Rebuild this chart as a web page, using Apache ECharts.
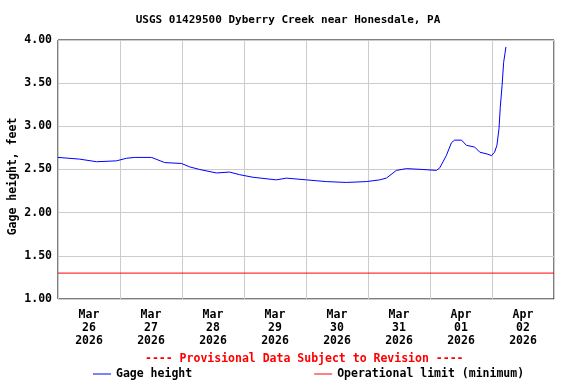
<!DOCTYPE html>
<html><head><meta charset="utf-8">
<script src="https://cdn.jsdelivr.net/npm/echarts@6/dist/echarts.min.js"></script>
<style>html,body{margin:0;padding:0;background:#fff}#c{width:576px;height:384px}</style>
</head><body><div id="c"></div>
<script>
const titleText = 'USGS 01429500 Dyberry Creek near Honesdale, PA';
const yTicks = [1.0, 1.5, 2.0, 2.5, 3.0, 3.5, 4.0];
const times = [
 '2026-03-26T00:00','2026-03-26T08:24','2026-03-26T14:54','2026-03-26T22:36',
 '2026-03-27T02:30','2026-03-27T05:42','2026-03-27T12:12','2026-03-27T17:18','2026-03-27T23:48',
 '2026-03-28T03:00','2026-03-28T06:54','2026-03-28T13:18','2026-03-28T18:24','2026-03-28T22:18',
 '2026-03-29T03:30','2026-03-29T12:30','2026-03-29T16:24',
 '2026-03-30T00:12','2026-03-30T04:00','2026-03-30T07:54','2026-03-30T15:36','2026-03-30T23:24',
 '2026-03-31T04:30','2026-03-31T07:06','2026-03-31T09:42','2026-03-31T11:00','2026-03-31T14:54','2026-03-31T21:18',
 '2026-04-01T02:30','2026-04-01T03:48','2026-04-01T06:18','2026-04-01T08:18','2026-04-01T09:30',
 '2026-04-01T12:12','2026-04-01T14:06','2026-04-01T17:18','2026-04-01T19:18','2026-04-01T22:06','2026-04-01T23:48',
 '2026-04-02T01:00','2026-04-02T01:54','2026-04-02T02:42','2026-04-02T03:12','2026-04-02T03:54',
 '2026-04-02T04:30','2026-04-02T05:00','2026-04-02T05:24'
];
const gageHeight = [
 2.64,2.62,2.59,2.60,
 2.63,2.64,2.64,2.58,2.57,
 2.53,2.50,2.46,2.47,2.44,
 2.41,2.38,2.40,
 2.38,2.37,2.36,2.35,2.36,
 2.38,2.40,2.46,2.49,2.51,2.50,
 2.49,2.52,2.66,2.81,2.84,
 2.84,2.78,2.76,2.70,2.68,2.66,
 2.70,2.78,2.97,3.22,3.47,
 3.74,3.84,3.92
];
const operationalLimit = 1.30;
const axisStart = '2026-03-26T00:00';
const axisEnd = '2026-04-03T00:00';
const months = ['Jan','Feb','Mar','Apr','May','Jun','Jul','Aug','Sep','Oct','Nov','Dec'];

const toMs = s => Date.parse(s + ':00Z');
const H = 3600 * 1000;
const xMin = toMs(axisStart), xMax = toMs(axisEnd);
const font = '"DejaVu Sans Mono", monospace';
const fs = 11.5;

const chart = echarts.init(document.getElementById('c'), null, {renderer: 'canvas'});
chart.setOption({
  animation: false,
  backgroundColor: '#fff',
  title: {text: titleText, left: 'center', top: 10,
    textStyle: {fontFamily: font, fontSize: 11, fontWeight: 'bold', color: '#000'}},
  grid: {left: 58, right: 22, top: 40, bottom: 85, show: true, borderColor: '#000', borderWidth: 1,
    backgroundColor: 'transparent', containLabel: false, outerBoundsMode: 'none'},
  legend: {left: 88, top: 363, itemGap: 122, itemWidth: 18, itemHeight: 1, icon: 'rect',
    textStyle: {fontFamily: font, fontSize: fs, fontWeight: 'bold', color: '#000'},
    data: ['Gage height', 'Operational limit (minimum)']},
  graphic: [{type: 'text', left: 145, top: 353, style: {
    text: '---- Provisional Data Subject to Revision ----', fill: '#ff0000',
    font: 'bold ' + fs + 'px ' + font}}],
  xAxis: [
    {type: 'value', min: xMin, max: xMax, interval: 12 * H,
     axisLine: {show: false}, axisTick: {show: false}, splitLine: {show: false},
     axisLabel: {margin: 10, lineHeight: 13, fontFamily: font, fontSize: fs, fontWeight: 'bold', color: '#000',
       showMinLabel: false, showMaxLabel: false,
       formatter: v => {
         const d = new Date(v);
         if (d.getUTCHours() !== 12) return '';
         return months[d.getUTCMonth()] + '\n' + String(d.getUTCDate()).padStart(2, '0') + '\n' + d.getUTCFullYear();
       }}},
    {type: 'value', min: xMin, max: xMax, interval: 24 * H, position: 'bottom',
     axisLine: {show: false}, axisTick: {show: false}, axisLabel: {show: false},
     splitLine: {show: true, lineStyle: {color: '#cccccc', width: 1}}}
  ],
  yAxis: {type: 'value', min: yTicks[0], max: yTicks[yTicks.length - 1], interval: yTicks[1] - yTicks[0],
    name: 'Gage height, feet', nameLocation: 'middle', nameGap: 39, nameRotate: 90, nameMoveOverlap: false,
    nameTextStyle: {fontFamily: font, fontSize: fs, fontWeight: 'bold', color: '#000', padding: [0, 14, 0, 0]},
    axisLine: {show: false}, axisTick: {show: false},
    axisLabel: {margin: 6, fontFamily: font, fontSize: fs, fontWeight: 'bold', color: '#000', formatter: v => v.toFixed(2)},
    splitLine: {show: true, lineStyle: {color: '#cccccc', width: 1}}},
  series: [
    {name: 'Gage height', type: 'line', xAxisIndex: 0, showSymbol: false, symbol: 'none',
     lineStyle: {color: '#0000ff', width: 1}, itemStyle: {color: '#0000ff'},
     data: times.map((t, i) => [toMs(t), gageHeight[i]])},
    {name: 'Operational limit (minimum)', type: 'line', xAxisIndex: 0, showSymbol: false, symbol: 'none',
     lineStyle: {color: '#ff0000', width: 1}, itemStyle: {color: '#ff0000'},
     data: [[xMin, operationalLimit], [xMax, operationalLimit]]}
  ]
});
</script></body></html>
